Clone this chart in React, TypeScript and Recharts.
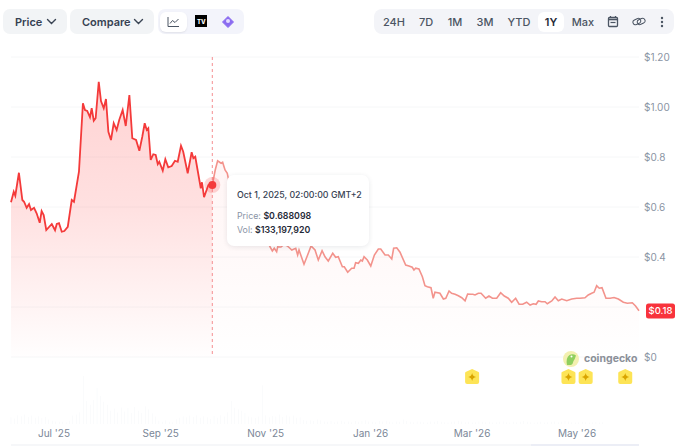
import {
  Area,
  Bar,
  CartesianGrid,
  ComposedChart,
  ReferenceDot,
  ReferenceLine,
  XAxis,
  YAxis,
} from 'recharts';

// x is days since Jun 6 2025
const priceDays = [
  0, 1.6, 2.5, 4.6, 6.6, 7.6, 9.1, 10.5, 11.6, 13.4, 14.9, 16.7, 17.8, 19, 20.5, 23.7, 25.6, 26.6, 27.9, 29.5,
  31, 33, 35.3, 36.6, 39.5, 41.8, 43, 44.3, 45.9, 46.9, 48.1, 49.2, 51, 52.3, 53.9, 55.2, 56.6, 58.1, 59.7, 61.4,
  62.9, 64.9, 66.7, 68.8, 70.5, 72.7, 74.6, 76.3, 77.7, 78.9, 79.8, 81.2, 82.7, 84.1, 85.3, 86.2, 88.2, 89.7, 91.4, 93.4,
  95.3, 96.9, 98.8, 100.1, 102.7, 105, 106, 107.1, 110.3, 111, 112.2, 114.7, 115.7, 117, 118.7, 120.1, 122.1, 123, 124.4, 125.7,
  126.5, 128.4, 130.8, 133.1, 135.4, 137.8, 140.1, 142.4, 144.7, 147, 149.4, 150.5, 151.9, 153, 154.4, 155, 156.9, 158.7, 160.4, 161.8,
  163.2, 165.5, 166.6, 167.4, 170.3, 172.4, 174.4, 176.7, 178.6, 180.8, 182.5, 184.4, 187, 188.7, 190.2, 192.6, 193.7, 195.7, 198, 199.4,
  200.3, 201.9, 203.3, 204.2, 205.2, 207.1, 209.1, 211.2, 213.5, 214.9, 217.4, 219.3, 221.3, 222.4, 224.2, 226.1, 229.4, 231.3, 233.2, 234.2,
  235.2, 237.1, 239.1, 240.6, 242, 244.1, 245.4, 246.4, 249.3, 251.3, 252.7, 254.6, 256.1, 258.1, 260, 262, 263.9, 265.4, 267.4, 268.4,
  269.7, 271.6, 273.2, 275.9, 277.8, 279.8, 282.3, 284.6, 286.7, 289, 291, 293.3, 295.3, 297.4, 299.7, 301.7, 303.6, 305.2, 306.5, 308.4,
  310.4, 311.7, 314.3, 316.2, 318.1, 320.1, 323, 325.9, 328.8, 330.7, 333.6, 335.5, 337.5, 338.9, 340.4, 341.9, 343.5, 345.8, 348.2, 350.5,
  353, 355.9, 358.2, 361.1, 363, 365,
];

const prices = [
  0.619, 0.661, 0.645, 0.737, 0.628, 0.621, 0.597, 0.612, 0.588, 0.597, 0.575, 0.537, 0.584, 0.568, 0.508, 0.532, 0.507, 0.532, 0.535, 0.501,
  0.504, 0.521, 0.628, 0.621, 0.741, 1.015, 0.988, 0.984, 0.959, 0.995, 0.945, 0.955, 1.101, 1.024, 0.995, 1.032, 0.901, 0.868, 0.935, 0.908,
  0.948, 0.988, 0.924, 1.048, 0.875, 0.868, 0.825, 0.881, 0.935, 0.908, 0.915, 0.788, 0.811, 0.808, 0.771, 0.781, 0.745, 0.791, 0.759, 0.764,
  0.785, 0.781, 0.845, 0.821, 0.735, 0.819, 0.795, 0.801, 0.675, 0.699, 0.639, 0.688, 0.692, 0.688, 0.748, 0.785, 0.775, 0.779, 0.748, 0.735,
  0.708, 0.69, 0.66, 0.63, 0.6, 0.58, 0.55, 0.52, 0.5, 0.48, 0.46, 0.441, 0.424, 0.435, 0.421, 0.441, 0.44, 0.45, 0.445, 0.437,
  0.428, 0.435, 0.408, 0.428, 0.371, 0.408, 0.444, 0.428, 0.388, 0.425, 0.401, 0.384, 0.415, 0.399, 0.401, 0.361, 0.361, 0.339, 0.355, 0.355,
  0.377, 0.375, 0.388, 0.384, 0.401, 0.388, 0.364, 0.408, 0.432, 0.432, 0.408, 0.408, 0.392, 0.435, 0.437, 0.419, 0.368, 0.364, 0.359, 0.348,
  0.355, 0.352, 0.321, 0.285, 0.281, 0.277, 0.235, 0.259, 0.255, 0.232, 0.235, 0.264, 0.255, 0.251, 0.245, 0.237, 0.225, 0.252, 0.251, 0.251,
  0.248, 0.255, 0.255, 0.235, 0.244, 0.235, 0.235, 0.257, 0.244, 0.235, 0.219, 0.235, 0.211, 0.211, 0.219, 0.208, 0.213, 0.211, 0.224, 0.221,
  0.221, 0.213, 0.224, 0.24, 0.225, 0.232, 0.225, 0.232, 0.235, 0.235, 0.237, 0.248, 0.255, 0.259, 0.285, 0.275, 0.277, 0.235, 0.235, 0.238,
  0.232, 0.219, 0.215, 0.217, 0.204, 0.185,
];

// one bar every 2 days, millions of USD
const volumes = [
  180, 150, 240, 210, 260, 190, 230, 170, 210, 160, 190, 120, 90, 70, 60, 60, 50, 90,
  230, 260, 320, 1300, 620, 520, 650, 980, 760, 600, 520, 360, 420, 310, 450, 340, 440, 300,
  460, 360, 300, 480, 400, 290, 200, 90, 60, 100, 60, 50, 130, 170, 210, 180, 230, 190,
  240, 170, 210, 180, 133, 220, 170, 240, 200, 320, 620, 440, 400, 360, 300, 200, 180, 160,
  200, 1050, 240, 180, 220, 200, 260, 190, 240, 200, 230, 170, 180, 110, 90, 100, 80, 120,
  100, 70, 60, 80, 50, 70, 90, 60, 70, 50, 80, 60, 90, 100, 70, 60, 50, 80, 70, 90,
  60, 50, 70, 60, 120, 80, 60, 50, 70, 60, 50, 40, 70, 60, 80, 60, 50, 40, 60, 70,
  90, 70, 50, 60, 40, 50, 70, 60, 50, 60, 40, 50, 60, 70, 50, 40, 60, 50, 60, 80,
  60, 50, 40, 50, 60, 40, 50, 60, 70, 50, 60, 90, 70, 50, 40, 50, 60, 50, 40, 50,
  60, 40, 50,
];

const hoverDay = 117;
const hoverPrice = 0.688098;
const eventDays = [268, 324, 334, 357];

const xTicks = [25, 87, 148, 209, 268, 329];
const xTickLabels = ["Jul '25", "Sep '25", "Nov '25", "Jan '26", "Mar '26", "May '26"];
const yTicks = [0, 0.2, 0.4, 0.6, 0.8, 1, 1.2];

const ranges = ['24H', '7D', '1M', '3M', 'YTD', '1Y', 'Max'];
const rangeCenters = [394, 426, 455, 485, 519, 551, 583];

type Row = { day: number; before?: number; after?: number; volume?: number };

function buildRows(): Row[] {
  const byDay = new Map<number, Row>();
  const rowFor = (day: number) => {
    let r = byDay.get(day);
    if (!r) {
      r = { day };
      byDay.set(day, r);
    }
    return r;
  };
  priceDays.forEach((day, i) => {
    const r = rowFor(day);
    if (day <= hoverDay) r.before = prices[i];
    if (day >= hoverDay) r.after = prices[i];
  });
  volumes.forEach((v, i) => {
    rowFor(i * 2).volume = v;
  });
  return [...byDay.values()].sort((a, b) => a.day - b.day);
}

const rows = buildRows();

function formatPrice(v: number) {
  if (v === 0) return '$0';
  if (v === 1) return '$1.00';
  if (v === 1.2) return '$1.20';
  // $0.2 sits under the current price tag
  if (v === 0.2) return '';
  return `$${v}`;
}

function Chevron({ x }: { x: number }) {
  return (
    <svg style={{ position: 'absolute', left: x, top: 18 }} width="11" height="8" viewBox="0 0 11 8">
      <path d="M1.5 1.5 L5.5 5.5 L9.5 1.5" fill="none" stroke="#3a4454" strokeWidth="1.4" strokeLinecap="round" />
    </svg>
  );
}

function EventBadge({ cx, cy }: { cx?: number; cy?: number }) {
  const x = cx ?? 0;
  const y = cy ?? 0;
  return (
    <g>
      <path
        d={`M${x} ${y - 8} L${x + 6.5} ${y - 5} Q${x + 7} ${y - 4.5} ${x + 7} ${y - 4} V${y + 5} Q${x + 7} ${y + 7} ${x + 5} ${y + 7} H${x - 5} Q${x - 7} ${y + 7} ${x - 7} ${y + 5} V${y - 4} Q${x - 7} ${y - 4.5} ${x - 6.5} ${y - 5} Z`}
        fill="#fde456"
      />
      <path
        d={`M${x} ${y - 4} Q${x + 0.6} ${y - 0.6} ${x + 4} ${y} Q${x + 0.6} ${y + 0.6} ${x} ${y + 4} Q${x - 0.6} ${y + 0.6} ${x - 4} ${y} Q${x - 0.6} ${y - 0.6} ${x} ${y - 4} Z`}
        fill="#d9a400"
      />
    </g>
  );
}

function PriceTag({ cx, cy }: { cx?: number; cy?: number }) {
  const x = cx ?? 0;
  const y = cy ?? 0;
  return (
    <g>
      <rect x={x + 7} y={y - 7.5} width={29} height={15} rx={2.5} fill="#f8333c" />
      <text x={x + 21.5} y={y + 3.4} textAnchor="middle" fontSize={9.5} fontWeight={500} fill="#fff">
        $0.18
      </text>
    </g>
  );
}

function HoverDot({ cx, cy }: { cx?: number; cy?: number }) {
  return (
    <g>
      <circle cx={cx} cy={cy} r={8} fill="#f43a3a" fillOpacity={0.2} />
      <circle cx={cx} cy={cy} r={4} fill="#f43a3a" />
    </g>
  );
}

export default function App() {
  return (
    <div
      style={{
        position: 'absolute',
        left: 0,
        top: 0,
        width: 680,
        height: 446,
        background: '#fff',
        overflow: 'hidden',
        fontFamily: 'Inter, sans-serif',
      }}
    >
      <ComposedChart width={680} height={446} data={rows} margin={{ top: 57, right: 0, bottom: 0, left: 11 }}>
        <defs>
          <linearGradient id="fillBefore" gradientUnits="userSpaceOnUse" x1="0" y1="57" x2="0" y2="357">
            <stop offset="0" stopColor="#ff3b3b" stopOpacity={0.4} />
            <stop offset="0.5" stopColor="#ff3b3b" stopOpacity={0.26} />
            <stop offset="0.8" stopColor="#ff3b3b" stopOpacity={0.11} />
            <stop offset="1" stopColor="#ff3b3b" stopOpacity={0.01} />
          </linearGradient>
          <linearGradient id="fillAfter" gradientUnits="userSpaceOnUse" x1="0" y1="57" x2="0" y2="357">
            <stop offset="0" stopColor="#ff3b3b" stopOpacity={0.12} />
            <stop offset="0.6" stopColor="#ff3b3b" stopOpacity={0.06} />
            <stop offset="1" stopColor="#ff3b3b" stopOpacity={0} />
          </linearGradient>
        </defs>
        <CartesianGrid yAxisId="price" vertical={false} stroke="#f6f7f8" syncWithTicks />
        <XAxis
          dataKey="day"
          type="number"
          domain={[0, 365]}
          ticks={xTicks}
          tickFormatter={(d: number) => xTickLabels[xTicks.indexOf(d)]}
          axisLine={false}
          tickLine={false}
          height={22}
          tick={{ fontSize: 10, fill: '#7b8797', dy: -2 }}
          interval={0}
        />
        <YAxis
          yAxisId="price"
          orientation="right"
          type="number"
          domain={[-0.268, 1.2]}
          ticks={yTicks}
          tickFormatter={formatPrice}
          allowDataOverflow
          axisLine={false}
          tickLine={false}
          width={41}
          tick={{ fontSize: 10, fill: '#8a94a3', dx: -3 }}
          interval={0}
        />
        <YAxis yAxisId="vol" hide type="number" domain={[0, 9940]} allowDataOverflow />
        <Bar yAxisId="vol" dataKey="volume" barSize={3} fill="#dfe3ec" isAnimationActive={false} />
        <Area
          yAxisId="price"
          dataKey="after"
          type="linear"
          baseValue={0}
          connectNulls
          stroke="#f3938c"
          strokeWidth={1.6}
          fill="url(#fillAfter)"
          dot={false}
          activeDot={false}
          isAnimationActive={false}
        />
        <Area
          yAxisId="price"
          dataKey="before"
          type="linear"
          baseValue={0}
          connectNulls
          stroke="#f43a3a"
          strokeWidth={1.8}
          fill="url(#fillBefore)"
          dot={false}
          activeDot={false}
          isAnimationActive={false}
        />
        <ReferenceLine
          yAxisId="price"
          segment={[
            { x: hoverDay, y: 1.2 },
            { x: hoverDay, y: 0 },
          ]}
          stroke="#f58f92"
          strokeDasharray="3 3"
        />
        <ReferenceDot yAxisId="price" x={hoverDay} y={hoverPrice} shape={HoverDot} />
        <ReferenceDot yAxisId="price" x={365} y={0.184} shape={PriceTag} />
        {eventDays.map((d) => (
          <ReferenceDot key={d} yAxisId="price" x={d} y={-0.08} shape={EventBadge} />
        ))}
      </ComposedChart>

      {/* toolbar */}
      <div style={{ position: 'absolute', left: 3, top: 9, width: 64, height: 25, background: '#f2f4f6', borderRadius: 7 }} />
      <div style={{ position: 'absolute', left: 15, top: 15, fontSize: 11, fontWeight: 600, color: '#364152' }}>Price</div>
      <Chevron x={46} />
      <div style={{ position: 'absolute', left: 70, top: 9, width: 84, height: 25, background: '#f2f4f6', borderRadius: 7 }} />
      <div style={{ position: 'absolute', left: 82, top: 15, fontSize: 11, fontWeight: 600, color: '#364152' }}>Compare</div>
      <Chevron x={133} />

      <div style={{ position: 'absolute', left: 158, top: 9, width: 86, height: 25, background: '#f3f4fb', borderRadius: 7 }} />
      <div style={{ position: 'absolute', left: 160, top: 12, width: 27, height: 20, background: '#fff', borderRadius: 6, boxShadow: '0 1px 2px rgba(0,0,0,.08)' }} />
      <svg style={{ position: 'absolute', left: 167, top: 16 }} width="13" height="12" viewBox="0 0 13 12">
        <path d="M1 1 V10.5 H12" fill="none" stroke="#4b5563" strokeWidth="1" />
        <path d="M3 7.5 L5.5 4.5 L8 6.5 L11.5 3" fill="none" stroke="#4b5563" strokeWidth="1" />
      </svg>
      <div style={{ position: 'absolute', left: 195, top: 15, width: 12, height: 12, background: '#000' }} />
      <div style={{ position: 'absolute', left: 197, top: 18, fontSize: 6, lineHeight: '7px', fontWeight: 800, color: '#fff' }}>TV</div>
      <svg style={{ position: 'absolute', left: 222, top: 16 }} width="12" height="12" viewBox="0 0 12 12">
        <path d="M6 0.5 L11.5 6 L6 11.5 L0.5 6 Z" fill="#8b6cf0" stroke="#8b6cf0" strokeWidth="1" strokeLinejoin="round" />
        <circle cx="6" cy="5" r="2" fill="#e3dcff" />
      </svg>

      <div style={{ position: 'absolute', left: 374, top: 9, width: 300, height: 25, background: '#f3f4f8', borderRadius: 8 }} />
      <div style={{ position: 'absolute', left: 538, top: 12, width: 26, height: 20, background: '#fff', borderRadius: 6 }} />
      {ranges.map((r, i) => (
        <div
          key={r}
          style={{
            position: 'absolute',
            left: rangeCenters[i] - 20,
            width: 40,
            top: 15,
            textAlign: 'center',
            fontSize: 11,
            fontWeight: r === '1Y' ? 600 : 500,
            color: r === '1Y' ? '#1f2937' : '#4b5563',
          }}
        >
          {r}
        </div>
      ))}
      <svg style={{ position: 'absolute', left: 607, top: 15 }} width="12" height="13" viewBox="0 0 12 13">
        <rect x="1.5" y="2.5" width="9" height="9" rx="1" fill="none" stroke="#4b5563" strokeWidth="1.3" />
        <path d="M1.5 4.5 H10.5" stroke="#4b5563" strokeWidth="1.6" />
        <path d="M3.5 7.5 H8.5" stroke="#4b5563" strokeWidth="1.2" />
        <path d="M3.5 1 V3 M8.5 1 V3" stroke="#4b5563" strokeWidth="1.2" />
      </svg>
      <svg style={{ position: 'absolute', left: 632, top: 16 }} width="14" height="11" viewBox="0 0 14 11">
        <rect x="0.8" y="3" width="8" height="5" rx="2.5" transform="rotate(-25 5 5.5)" fill="none" stroke="#4b5563" strokeWidth="1" />
        <rect x="5.2" y="3" width="8" height="5" rx="2.5" transform="rotate(-25 9 5.5)" fill="none" stroke="#4b5563" strokeWidth="1" />
      </svg>
      <svg style={{ position: 'absolute', left: 660, top: 16 }} width="4" height="12" viewBox="0 0 4 12">
        <circle cx="2" cy="2" r="1.2" fill="#4b5563" />
        <circle cx="2" cy="6" r="1.2" fill="#4b5563" />
        <circle cx="2" cy="10" r="1.2" fill="#4b5563" />
      </svg>

      {/* hover tooltip */}
      <div
        style={{
          position: 'absolute',
          left: 227,
          top: 175,
          width: 142,
          height: 71,
          background: '#fff',
          borderRadius: 7,
          boxShadow: '0 1px 5px rgba(30,40,60,.10)',
          fontSize: 8.8,
          lineHeight: '14px',
          color: '#364152',
        }}
      >
        <div style={{ position: 'absolute', left: 10, top: 13, whiteSpace: 'nowrap', fontWeight: 500 }}>
          Oct 1, 2025, 02:00:00 GMT+2
        </div>
        <div style={{ position: 'absolute', left: 10, top: 34, whiteSpace: 'nowrap', color: '#8a94a6' }}>
          Price: <b style={{ color: '#1f2937', fontWeight: 600 }}>$0.688098</b>
        </div>
        <div style={{ position: 'absolute', left: 10, top: 48, whiteSpace: 'nowrap', color: '#8a94a6' }}>
          Vol: <b style={{ color: '#1f2937', fontWeight: 600 }}>$133,197,920</b>
        </div>
      </div>

      {/* watermark */}
      <svg style={{ position: 'absolute', left: 562, top: 350 }} width="18" height="18" viewBox="0 0 18 18">
        <circle cx="9" cy="9" r="8" fill="#f3f0b0" />
        <path d="M5 15 Q3.5 8 7.5 5 Q11 3.5 14 5.5 Q13 9 11.5 11 Q11 14 9 15 Z" fill="#8fcf5f" />
        <circle cx="9.5" cy="6.5" r="1" fill="#fff" />
      </svg>
      <div style={{ position: 'absolute', left: 584, top: 352, fontSize: 10.5, fontWeight: 700, color: '#8b9099' }}>coingecko</div>

      {/* range slider edge */}
      <div style={{ position: 'absolute', left: 11, top: 444, width: 628, height: 2, background: '#f6f7f9' }} />
      <div style={{ position: 'absolute', left: 531, top: 444, width: 108, height: 2, background: '#eceef6' }} />
    </div>
  );
}
